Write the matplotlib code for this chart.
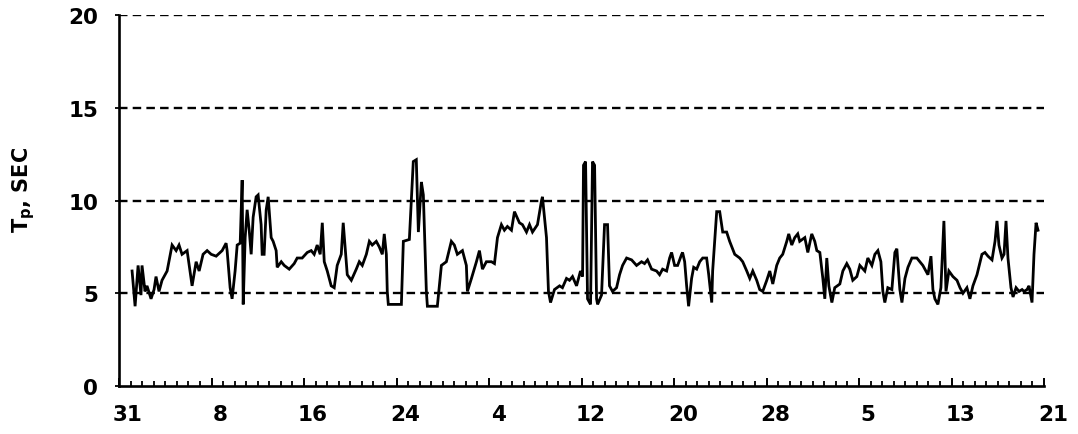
import matplotlib
matplotlib.use("Agg")
import matplotlib.pyplot as plt
from matplotlib.ticker import MultipleLocator
from matplotlib.transforms import ScaledTranslation

# Peak wave period record, time in days from 31 Jan, Tp in seconds
days = [
    1.13, 1.39, 1.65, 1.90, 1.99, 2.25, 2.42, 2.77, 3.03, 3.20, 3.46, 3.72, 4.16, 4.59,
    4.94, 5.19, 5.45, 5.89, 6.32, 6.67, 6.93, 7.27, 7.62, 7.97, 8.40, 8.92, 9.26, 9.35,
    9.61, 9.78, 10.04, 10.22, 10.48, 10.65, 10.74, 10.91, 11.08, 11.26, 11.43, 11.60,
    11.86, 12.03, 12.29, 12.38, 12.55, 12.73, 12.90, 13.16, 13.33, 13.59, 13.68, 14.03,
    14.29, 14.72, 15.15, 15.41, 15.84, 16.28, 16.62, 16.88, 17.14, 17.40, 17.58, 17.75,
    18.01, 18.35, 18.61, 18.87, 19.22, 19.39, 19.74, 20.09, 20.52, 20.78, 21.04, 21.39,
    21.65, 21.90, 22.25, 22.51, 22.77, 22.94, 23.12, 23.20, 23.29, 24.42, 24.59, 25.11,
    25.45, 25.71, 25.89, 26.15, 26.32, 26.58, 26.67, 27.53, 27.88, 28.31, 28.74, 29.00,
    29.26, 29.70, 30.04, 30.13, 30.48, 30.91, 31.17, 31.43, 31.77, 32.21, 32.47, 32.73,
    33.07, 33.33, 33.59, 33.94, 34.20, 34.63, 34.89, 35.24, 35.50, 35.76, 36.19, 36.54,
    36.62, 36.97, 37.14, 37.32, 37.66, 38.10, 38.35, 38.70, 38.96, 39.22, 39.57, 39.91,
    40.09, 40.17, 40.35, 40.52, 40.78, 40.95, 41.13, 41.30, 41.39, 41.73, 41.99, 42.25,
    42.42, 42.68, 43.03, 43.29, 43.55, 43.90, 44.33, 44.76, 45.19, 45.45, 45.71, 46.06,
    46.49, 46.75, 47.01, 47.36, 47.62, 47.79, 48.05, 48.31, 48.66, 48.74, 48.92, 49.09,
    49.26, 49.52, 49.70, 49.96, 50.22, 50.48, 50.82, 51.00, 51.26, 51.34, 51.69, 51.95,
    52.21, 52.55, 52.81, 53.25, 53.68, 53.94, 54.29, 54.55, 54.81, 55.15, 55.41, 55.67,
    56.02, 56.28, 56.54, 56.88, 57.14, 57.40, 57.75, 57.92, 58.18, 58.44, 58.70, 58.87,
    59.31, 59.57, 59.91, 60.17, 60.35, 60.61, 60.87, 61.04, 61.21, 61.39, 61.65, 61.90,
    62.34, 62.60, 62.94, 63.20, 63.46, 63.81, 64.07, 64.50, 64.76, 65.11, 65.37, 65.63,
    65.89, 66.06, 66.23, 66.49, 66.84, 67.10, 67.27, 67.53, 67.71, 67.97, 68.23, 68.57,
    69.00, 69.26, 69.52, 69.96, 70.22, 70.39, 70.56, 70.82, 71.08, 71.34, 71.52, 71.77,
    72.12, 72.47, 72.73, 72.99, 73.33, 73.59, 73.85, 74.20, 74.63, 74.89, 75.15, 75.50,
    75.76, 75.93, 76.10, 76.36, 76.54, 76.71, 76.88, 77.14, 77.32, 77.58, 77.84, 78.10,
    78.27, 78.53, 78.70, 78.96, 79.13, 79.31, 79.48,
]
tp = [
    6.2, 4.3, 6.5, 4.9, 6.5, 5.1, 5.4, 4.7, 5.2, 5.9, 5.1, 5.7, 6.2, 7.6,
    7.3, 7.6, 7.1, 7.3, 5.4, 6.7, 6.2, 7.1, 7.3, 7.1, 7.0, 7.3, 7.7, 7.3,
    5.3, 4.7, 6.2, 7.6, 7.7, 11.1, 4.4, 8.0, 9.5, 8.4, 7.1, 9.1,
    10.2, 10.3, 8.7, 7.1, 7.1, 9.5, 10.2, 8.0, 7.8, 7.3, 6.4, 6.7,
    6.5, 6.3, 6.6, 6.9, 6.9, 7.2, 7.3, 7.1, 7.6, 7.1, 8.8, 6.7,
    6.2, 5.4, 5.3, 6.5, 7.1, 8.8, 6.0, 5.7, 6.3, 6.7, 6.5, 7.1,
    7.8, 7.6, 7.8, 7.5, 7.1, 8.2, 7.1, 5.1, 4.4, 4.4, 7.8, 7.9,
    12.1, 12.2, 8.3, 11.0, 10.3, 5.1, 4.3, 4.3, 6.5, 6.7, 7.8, 7.6,
    7.1, 7.3, 6.5, 5.1, 5.8, 6.7, 7.3, 6.3, 6.7, 6.7, 6.6, 8.0,
    8.7, 8.4, 8.6, 8.4, 9.4, 8.8, 8.7, 8.3, 8.7, 8.3, 8.7, 10.0,
    10.2, 8.0, 5.1, 4.5, 5.2, 5.4, 5.3, 5.8, 5.7, 5.9, 5.4, 6.2,
    5.9, 11.9, 12.1, 4.7, 4.4, 12.1, 11.9, 4.7, 4.4, 4.9, 8.7, 8.7,
    5.4, 5.1, 5.3, 6.0, 6.5, 6.9, 6.8, 6.5, 6.7, 6.6, 6.8, 6.3,
    6.2, 6.0, 6.3, 6.2, 6.9, 7.2, 6.5, 6.5, 7.1, 7.2, 6.7, 5.4,
    4.3, 5.8, 6.4, 6.3, 6.7, 6.9, 6.9, 6.0, 4.5, 6.2, 9.4, 9.4,
    8.3, 8.3, 7.8, 7.1, 6.9, 6.7, 6.2, 5.8, 6.2, 5.7, 5.2, 5.1,
    5.7, 6.2, 5.5, 6.5, 6.9, 7.1, 7.8, 8.2, 7.6, 8.0, 8.2, 7.8,
    8.0, 7.2, 8.2, 7.8, 7.3, 7.2, 5.8, 4.7, 6.9, 5.4, 4.5, 5.3,
    5.5, 6.2, 6.6, 6.3, 5.7, 5.9, 6.5, 6.2, 6.9, 6.5, 7.1, 7.3,
    6.7, 5.1, 4.5, 5.3, 5.2, 7.2, 7.4, 5.2, 4.5, 5.8, 6.4, 6.9,
    6.9, 6.7, 6.5, 6.0, 7.0, 5.2, 4.7, 4.4, 5.3, 8.9, 5.1, 6.2,
    5.9, 5.7, 5.3, 5.0, 5.3, 4.7, 5.4, 6.0, 7.1, 7.2, 7.0, 6.8,
    7.8, 8.9, 7.6, 6.9, 7.1, 8.9, 6.9, 5.3, 4.8, 5.3, 5.1, 5.2,
    5.1, 5.2, 5.4, 4.5, 7.1, 8.8, 8.4,
]

tick_days = [0, 8, 16, 24, 32, 40, 48, 56, 64, 72, 80]
tick_labels = ["31", "8", "16", "24", "4", "12", "20", "28", "5", "13", "21"]
y_ticks = [0, 5, 10, 15, 20]

font = {"family": "DejaVu Sans", "weight": "bold", "size": 15.5}

fig = plt.figure(figsize=(10.78, 4.35), dpi=100)
ax = fig.add_axes([0.1104, 0.1103, 0.8581, 0.8529])

# dashed reference lines
for yv in y_ticks[1:]:
    ax.axhline(yv, color="black", lw=1.7, ls=(0, (3.6, 2.2)), zorder=1)

ax.plot(days, tp, color="black", lw=2.0, solid_joinstyle="miter", zorder=3)

ax.set_xlim(0, 80)
ax.set_ylim(0, 20)

for side in ("top", "right"):
    ax.spines[side].set_visible(False)
for side in ("left", "bottom"):
    ax.spines[side].set_linewidth(1.9)
ax.spines["left"].set_zorder(4)

ax.set_xticks(tick_days)
ax.set_xticklabels(tick_labels, fontdict=font)
ax.xaxis.set_minor_locator(MultipleLocator(1))
ax.tick_params(axis="x", which="major", direction="in", length=6, width=1.4, pad=13)
ax.tick_params(axis="x", which="minor", direction="in", length=3.5, width=1.3)

ax.set_yticks(y_ticks)
ax.set_yticklabels([str(v) for v in y_ticks], fontdict=font)
ax.tick_params(axis="y", which="major", direction="out", length=3, width=1.3, pad=12)

# day labels sit a little right of their ticks
shift = ScaledTranslation(9 / 100, 0, fig.dpi_scale_trans)
for lbl in ax.get_xticklabels():
    lbl.set_transform(lbl.get_transform() + shift)

fig.text(24 / 1078, 1 - 190 / 435, r"T$_\mathbf{p}$, SEC", rotation=90,
         ha="center", va="center", fontsize=15, fontweight="bold")

fig.savefig("out.png", dpi=100)
